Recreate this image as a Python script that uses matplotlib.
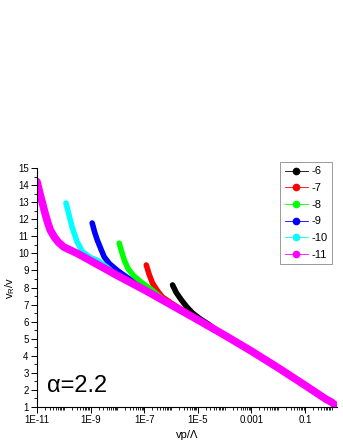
"""Reduced velocity against vp/Lambda for several starting exponents (alpha=2.2)."""

import matplotlib

matplotlib.use("Agg")

import matplotlib.pyplot as plt
import numpy as np
from matplotlib.lines import Line2D
from matplotlib.ticker import FixedLocator, LogLocator, NullFormatter

plt.rcParams["font.family"] = ["Liberation Sans", "DejaVu Sans"]

# log10(vp/Lambda) and v_R/v, one pair of lists per curve
labels = ["-6", "-7", "-8", "-9", "-10", "-11"]
colors = ["#000000", "#ff0000", "#00ff00", "#0000ff", "#00ffff", "#ff00ff"]

logx_m6 = [-5.94, -5.8, -5.61, -5.4, -5.19, -4.9, -4.6, -4.3]
vr_m6 = [8.15, 7.7, 7.27, 6.85, 6.5, 6.15, 5.85, 5.5]

logx_m7 = [-6.92, -6.82, -6.69, -6.5, -6.32, -6.0, -5.6, -5.2]
vr_m7 = [9.32, 8.8, 8.26, 7.8, 7.44, 7.1, 6.7, 6.28]

logx_m8 = [-7.93, -7.84, -7.74, -7.6, -7.4, -7.1, -6.7, -6.2]
vr_m8 = [10.6, 10.1, 9.6, 9.1, 8.7, 8.3, 7.85, 7.17]

logx_m9 = [-8.94, -8.85, -8.75, -8.6, -8.49, -8.3, -8.0, -7.6, -7.2]
vr_m9 = [11.78, 11.25, 10.78, 10.2, 9.79, 9.4, 9.0, 8.55, 8.05]

logx_m10 = [-9.92, -9.82, -9.69, -9.5, -9.3, -9.0, -8.75, -8.4, -8.1]
vr_m10 = [12.95, 12.35, 11.54, 10.66, 10.1, 9.75, 9.6, 9.2, 8.8]

logx_m11 = [-11.0, -10.9, -10.8, -10.7, -10.6, -10.5, -10.35, -10.2, -10.0,
            -9.5, -9.0, -8.0, -7.0, -6.0, -5.0, -4.0, -3.0, -2.0, -1.0,
            -0.5, -0.2, 0.0, 0.12]
vr_m11 = [14.2, 13.55, 12.95, 12.35, 11.8, 11.35, 10.95, 10.65, 10.37,
          10.0, 9.57, 8.7, 7.87, 6.99, 6.11, 5.21, 4.28, 3.3, 2.28,
          1.76, 1.45, 1.28, 1.12]

series = [
    (logx_m6, vr_m6),
    (logx_m7, vr_m7),
    (logx_m8, vr_m8),
    (logx_m9, vr_m9),
    (logx_m10, vr_m10),
    (logx_m11, vr_m11),
]

xtick_exp = [-11, -9, -7, -5, -3, -1]
xtick_labels = ["1E-11", "1E-9", "1E-7", "1E-5", "0.001", "0.1"]

fig = plt.figure(figsize=(3.43, 4.44), dpi=100)
ax = fig.add_axes([0.1079, 0.0833, 0.8746, 0.5383])

for (lx, vr), color in zip(series, colors):
    width = 5.5 if color == "#ff00ff" else 4.0
    ax.plot(10.0 ** np.array(lx), vr, color=color, linewidth=width,
            solid_capstyle="round", solid_joinstyle="round")

ax.set_xscale("log")
ax.set_xlim(10.0 ** -11.0, 10.0 ** 0.2)
ax.set_ylim(1, 15)

ax.spines["top"].set_visible(False)
ax.spines["right"].set_visible(False)
for side in ("left", "bottom"):
    ax.spines[side].set_linewidth(0.8)

ax.set_yticks(range(1, 16))
ax.yaxis.set_minor_locator(FixedLocator(np.arange(1.5, 15, 1.0)))
ax.xaxis.set_major_locator(FixedLocator([10.0 ** e for e in xtick_exp]))
ax.xaxis.set_major_formatter(plt.FixedFormatter(xtick_labels))
ax.xaxis.set_minor_locator(LogLocator(base=10, subs=np.arange(1, 10), numticks=30))
ax.xaxis.set_minor_formatter(NullFormatter())
ax.tick_params(which="major", direction="out", length=4, width=0.7, labelsize=7, pad=2)
ax.tick_params(which="minor", direction="out", length=2, width=0.6)

ax.set_xlabel("vp/Λ", fontsize=8, labelpad=3)
ax.set_ylabel("v$_\\mathregular{R}$/v", fontsize=8, labelpad=1)

ax.text(0.033, 0.04, "α=2.2", transform=ax.transAxes, fontsize=17,
        ha="left", va="bottom")

handles = [
    Line2D([], [], color=c, linewidth=0.6, marker="o", markersize=4.5,
           markerfacecolor=c, markeredgecolor=c)
    for c in colors
]
leg = fig.legend(handles, labels, loc="upper right",
                 bbox_to_anchor=(332 / 343, 1 - 162 / 444),
                 fontsize=8, frameon=True, fancybox=False, framealpha=1,
                 edgecolor="#999999", handlelength=2.1, handletextpad=0.3,
                 labelspacing=0.6, borderpad=0.4, borderaxespad=0)
leg.get_frame().set_linewidth(0.7)

fig.savefig("out.png", dpi=100)
plt.close(fig)
